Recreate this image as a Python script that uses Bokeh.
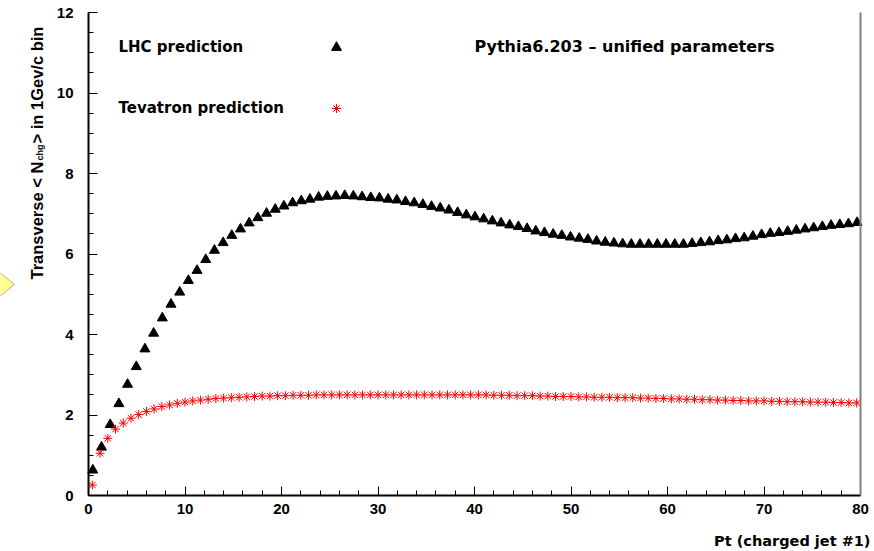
import numpy as np
from math import pi
from bokeh.plotting import figure
from bokeh.models import (Range1d, Label, PolyAnnotation, LinearAxis,
                          SingleIntervalTicker, FixedTicker, ColumnDataSource)
from bokeh.embed import file_html
from bokeh.resources import INLINE

# ---------------- data ----------------
lhc_bin_width = 0.9
lhc_values = [
    0.63, 1.20, 1.76, 2.28, 2.76, 3.20, 3.64, 4.03, 4.41, 4.75,
    5.05, 5.34, 5.59, 5.86, 6.09, 6.28, 6.46, 6.62, 6.77, 6.90,
    7.01, 7.11, 7.19, 7.27, 7.32, 7.36, 7.41, 7.43, 7.44, 7.45,
    7.44, 7.42, 7.40, 7.39, 7.36, 7.34, 7.30, 7.27, 7.23, 7.18,
    7.14, 7.09, 7.03, 6.97, 6.92, 6.87, 6.82, 6.77, 6.72, 6.68,
    6.63, 6.57, 6.53, 6.49, 6.46, 6.42, 6.39, 6.36, 6.32, 6.29,
    6.27, 6.25, 6.24, 6.24, 6.24, 6.24, 6.24, 6.24, 6.24, 6.26,
    6.28, 6.30, 6.33, 6.35, 6.38, 6.40, 6.44, 6.48, 6.51, 6.53,
    6.56, 6.59, 6.62, 6.65, 6.68, 6.71, 6.73, 6.75, 6.78,
]

tev_bin_width = 0.8
tev_values = [
    0.26, 1.05, 1.42, 1.65, 1.80, 1.92, 2.01, 2.09, 2.15, 2.21,
    2.25, 2.29, 2.32, 2.35, 2.37, 2.39, 2.41, 2.42, 2.43, 2.44,
    2.45, 2.46, 2.47, 2.47, 2.48, 2.48, 2.49, 2.49, 2.49, 2.50,
    2.50, 2.50, 2.50, 2.50, 2.50, 2.50, 2.50, 2.50, 2.50, 2.50,
    2.50, 2.50, 2.50, 2.50, 2.50, 2.50, 2.50, 2.50, 2.50, 2.50,
    2.50, 2.50, 2.49, 2.49, 2.49, 2.48, 2.48, 2.48, 2.47, 2.47,
    2.46, 2.46, 2.46, 2.45, 2.45, 2.44, 2.44, 2.44, 2.43, 2.43,
    2.43, 2.42, 2.42, 2.41, 2.41, 2.40, 2.40, 2.39, 2.39, 2.38,
    2.38, 2.37, 2.37, 2.36, 2.36, 2.35, 2.35, 2.35, 2.34, 2.34,
    2.33, 2.33, 2.33, 2.32, 2.32, 2.32, 2.31, 2.31, 2.30, 2.30,
]

x_axis_limits = (0, 80)
y_axis_limits = (0, 12)

legend_lhc = "LHC prediction"
legend_tev = "Tevatron prediction"
header_text = "Pythia6.203 \u2013 unified parameters"
x_title = "Pt (charged jet #1)"
y_title_a = "Transverse < N"
y_title_sub = "chg"
y_title_b = " > in 1Gev/c bin"

# bin centres
lhc_x = (np.arange(len(lhc_values)) + 0.5) * lhc_bin_width
tev_x = (np.arange(len(tev_values)) + 0.5) * tev_bin_width

lhc_src = ColumnDataSource(dict(x=lhc_x, y=lhc_values))
tev_src = ColumnDataSource(dict(x=tev_x, y=tev_values))

# ---------------- layout (canvas pixels) ----------------
W, H = 874, 551
AX_L, AX_R, AX_T, AX_B = 88, 860, 12, 495   # where the axes box sits


def px2x(px):
    return x_axis_limits[0] + (px - AX_L) / (AX_R - AX_L) * (x_axis_limits[1] - x_axis_limits[0])


def px2y(py):
    return y_axis_limits[0] + (AX_B - py) / (AX_B - AX_T) * (y_axis_limits[1] - y_axis_limits[0])


p = figure(width=W, height=H,
           x_range=Range1d(px2x(0), px2x(W)), y_range=Range1d(px2y(H), px2y(0)),
           output_backend="svg", toolbar_location=None,
           x_axis_type=None, y_axis_type=None,
           min_border=0, min_border_left=0, min_border_right=0,
           min_border_top=0, min_border_bottom=0)

p.grid.visible = False
p.outline_line_color = None
p.background_fill_color = "white"
p.border_fill_color = "white"

xaxis = LinearAxis(ticker=SingleIntervalTicker(interval=10, num_minor_ticks=5),
                   fixed_location=y_axis_limits[0], bounds=x_axis_limits)
yaxis = LinearAxis(ticker=SingleIntervalTicker(interval=2, num_minor_ticks=4),
                   fixed_location=x_axis_limits[0], bounds=y_axis_limits)
p.add_layout(xaxis, "below")
p.add_layout(yaxis, "left")

for ax in (xaxis, yaxis):
    ax.axis_line_color = "black"
    ax.axis_line_width = 2
    ax.major_tick_in = 9
    ax.major_tick_out = 0
    ax.minor_tick_in = 5
    ax.minor_tick_out = 0
    ax.major_tick_line_color = "black"
    ax.minor_tick_line_color = "black"
    ax.major_tick_line_width = 1
    ax.minor_tick_line_width = 1
    ax.major_label_text_font = "Liberation Sans"
    ax.major_label_text_font_style = "bold"
    ax.major_label_text_font_size = "15px"
    ax.major_label_text_color = "black"

xaxis.major_label_standoff = 8
yaxis.major_label_standoff = 15

# right frame edge (grey line, no ticks, no labels)
right_edge = LinearAxis(fixed_location=x_axis_limits[1], bounds=y_axis_limits,
                        ticker=FixedTicker(ticks=[], minor_ticks=[]),
                        axis_line_color="#808080", axis_line_width=2,
                        major_tick_line_color=None, minor_tick_line_color=None)
p.add_layout(right_edge, "right")

# data
p.scatter("x", "y", source=lhc_src, marker="triangle", size=10,
          fill_color="black", line_color="black")
p.scatter("x", "y", source=tev_src, marker="asterisk", size=9,
          line_color="red", line_width=1)

# legend
leg_font = dict(text_font="DejaVu Sans", text_font_style="bold",
                text_font_size="15px", text_color="black",
                text_baseline="middle", text_align="left")
p.add_layout(Label(x=px2x(118), y=px2y(46), text=legend_lhc, **leg_font))
p.add_layout(Label(x=px2x(118), y=px2y(107), text=legend_tev, **leg_font))
hdr_font = dict(leg_font, text_font_size="16px")
p.add_layout(Label(x=px2x(474), y=px2y(46), text=header_text, **hdr_font))
p.scatter(x=[px2x(336)], y=[px2y(47)], marker="triangle", size=10,
          fill_color="black", line_color="black")
p.scatter(x=[px2x(336)], y=[px2y(108)], marker="asterisk", size=9,
          line_color="red", line_width=1)

# x title
p.add_layout(Label(x=px2x(870), y=px2y(540), text=x_title,
                   text_font="DejaVu Sans", text_font_style="bold",
                   text_font_size="14.5px", text_color="black",
                   text_baseline="middle", text_align="right"))

# y title (rotated, with subscript)
yt = dict(text_font="Liberation Sans", text_font_style="bold",
          text_color="black", angle=pi / 2, text_align="left",
          text_baseline="alphabetic")
p.add_layout(Label(x=px2x(36), y=px2y(279), text=y_title_a,
                   text_font_size="16.5px", **yt))
p.add_layout(Label(x=px2x(39.5), y=px2y(160), text=y_title_sub,
                   text_font_size="9px", **yt))
p.add_layout(Label(x=px2x(36), y=px2y(143), text=y_title_b,
                   text_font_size="16.5px", **yt))

# yellow pointer at left edge
p.add_layout(PolyAnnotation(xs=[px2x(-8), px2x(14), px2x(-8)],
                            ys=[px2y(266), px2y(284), px2y(302)],
                            fill_color="#ffff88", fill_alpha=1.0,
                            line_color="black", line_width=1))

open("out.html", "w").write(file_html(p, INLINE))
